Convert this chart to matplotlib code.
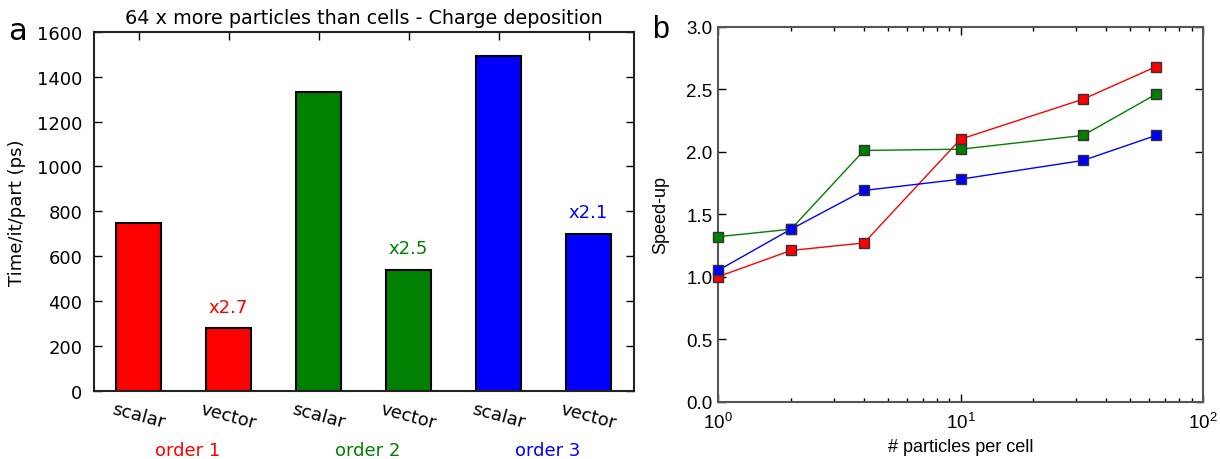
import matplotlib
matplotlib.use("Agg")
import matplotlib.pyplot as plt
import numpy as np
from matplotlib.ticker import FixedLocator, FuncFormatter, LogLocator, NullFormatter

# panel a: charge deposition timings
bar_labels = ["scalar", "vector", "scalar", "vector", "scalar", "vector"]
bar_values = [750, 280, 1330, 540, 1490, 700]
bar_colors = ["red", "red", "green", "green", "blue", "blue"]
order_labels = ["order 1", "order 2", "order 3"]
order_colors = ["red", "green", "blue"]
speedup_labels = ["x2.7", "x2.5", "x2.1"]

# panel b: speed-up vs particles per cell
ppc = [1, 2, 4, 10, 32, 64]
speedup_order1 = [1.00, 1.21, 1.27, 2.10, 2.42, 2.68]
speedup_order2 = [1.32, 1.38, 2.01, 2.02, 2.13, 2.46]
speedup_order3 = [1.05, 1.38, 1.69, 1.78, 1.93, 2.13]

W, H = 1220, 460
fig = plt.figure(figsize=(W / 100, H / 100), dpi=100)

# ---------------- panel a ----------------
dv = "DejaVu Sans"
ax1 = fig.add_axes([93.5 / W, (H - 392) / H, 540 / W, (392 - 32.7) / H])
x = np.arange(len(bar_values))
ax1.bar(x, bar_values, width=0.5, color=bar_colors, edgecolor="black",
        linewidth=1.5, zorder=2)
ax1.set_xlim(-0.5, 5.5)
ax1.set_ylim(0, 1600)
ax1.set_yticks(np.arange(0, 1601, 200))
ax1.set_xticks(x)
ax1.set_xticklabels(bar_labels, rotation=-15, ha="center", fontsize=13, family=dv)
for lab in ax1.get_yticklabels():
    lab.set_fontsize(13)
    lab.set_family(dv)
ax1.tick_params(direction="in", top=True, right=True, length=6, width=1)
ax1.tick_params(axis="x", pad=6)
ax1.tick_params(axis="y", pad=8)
for sp in ax1.spines.values():
    sp.set_linewidth(1.5)
    sp.set_color("#222222")
ax1.set_ylabel("Time/it/part (ps)", fontsize=13, family=dv, labelpad=8)
ax1.set_title("64 x more particles than cells - Charge deposition",
              fontsize=13.8, family=dv, pad=6)

for i, (lab, col) in enumerate(zip(speedup_labels, order_colors)):
    xi = 2 * i + 1
    ax1.text(xi, bar_values[xi] + 55, lab, color=col, ha="center",
             va="bottom", fontsize=13, family=dv)
for i, (lab, col) in enumerate(zip(order_labels, order_colors)):
    ax1.text(2 * i + 0.55, -0.163, lab, color=col, ha="center", va="center",
             fontsize=13, family=dv, transform=ax1.get_xaxis_transform())

fig.text(17 / W, 1 - 32 / H, "a", fontsize=22, family=dv, ha="center", va="center")

# ---------------- panel b ----------------
ls = "Liberation Sans"
ax2 = fig.add_axes([718 / W, (H - 402.7) / H, 485 / W, 375 / H])
for ys, col in zip([speedup_order1, speedup_order2, speedup_order3],
                   ["red", "green", "blue"]):
    ax2.plot(ppc, ys, color=col, linewidth=1, marker="s", markersize=6.5,
             markerfacecolor=col, markeredgecolor="#333333",
             markeredgewidth=1, clip_on=False, zorder=3)
ax2.set_xscale("log")
ax2.set_xlim(1, 100)
ax2.set_ylim(0, 3.0)
ax2.set_yticks(np.arange(0, 3.01, 0.5))
ax2.yaxis.set_major_formatter(FuncFormatter(lambda v, p: f"{v:.1f}"))
ax2.xaxis.set_major_locator(FixedLocator([1, 10, 100]))
ax2.xaxis.set_minor_locator(LogLocator(base=10, subs=np.arange(2, 10)))
ax2.xaxis.set_minor_formatter(NullFormatter())
ax2.xaxis.set_major_formatter(
    FuncFormatter(lambda v, p: r"$\mathregular{10^{%d}}$" % round(np.log10(v))))
ax2.tick_params(which="both", direction="in", top=True, right=True,
                labelsize=13.5, width=1)
ax2.tick_params(which="major", length=6)
ax2.tick_params(which="minor", length=3)
ax2.tick_params(axis="x", pad=7)
ax2.tick_params(axis="y", pad=4)
for lab in ax2.get_xticklabels() + ax2.get_yticklabels():
    lab.set_family(ls)
for sp in ax2.spines.values():
    sp.set_linewidth(1.5)
    sp.set_color("#555555")
ax2.set_xlabel("# particles per cell", fontsize=13, family=ls, labelpad=5)
ax2.set_ylabel("Speed-up", fontsize=13, family=ls, labelpad=12)

fig.text(661 / W, 1 - 30 / H, "b", fontsize=22, family=ls, ha="center", va="center")

fig.savefig("out.png", dpi=100)
